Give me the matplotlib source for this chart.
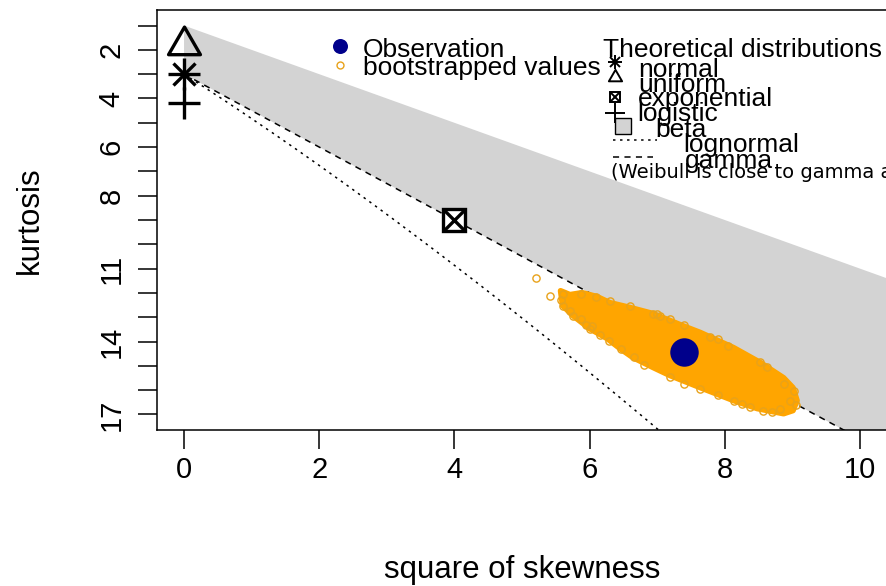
import matplotlib
matplotlib.use("Agg")
import matplotlib.pyplot as plt
import numpy as np
from matplotlib.path import Path

plt.rcParams['font.family'] = ['Liberation Sans', 'DejaVu Sans']

W, H, DPI = 886, 586, 100

# Observed (square of skewness, kurtosis)
obs_skew2 = [7.39]
obs_kurt = [14.44]

# Theoretical single-point distributions
normal_pt = (0.0, 3.0)
uniform_pt = (0.0, 1.8)
logistic_pt = (0.0, 4.2)
exponential_pt = (4.0, 9.0)

# Dense core of the bootstrap cloud (outline of the overlapping points)
boot_core_skew2 = [5.57, 5.71, 5.89, 6.11, 6.30, 6.60, 6.94, 7.38, 7.64, 8.13, 8.53,
                   8.87, 9.01, 9.07, 9.01, 8.87, 8.48, 8.13, 7.64, 7.19, 6.94, 6.64,
                   6.45, 6.26, 6.00, 5.75, 5.60]
boot_core_kurt = [11.91, 12.07, 11.99, 12.15, 12.40, 12.60, 12.85, 13.35, 13.63, 14.25, 14.87,
                  15.49, 15.90, 16.43, 16.84, 16.97, 16.76, 16.43, 15.90, 15.40, 15.07, 14.66,
                  14.29, 13.88, 13.47, 12.93, 12.52]

# Individual bootstrap values around the edge of the cloud
boot_edge_skew2 = [5.20, 5.41, 5.61, 5.58, 5.61, 5.71, 5.76, 5.88, 6.00, 6.03, 6.28, 6.47,
                   6.65, 7.19, 7.64, 8.13, 8.38, 8.57, 8.82, 8.97, 8.87, 9.02, 8.62, 8.52,
                   8.05, 7.78, 6.99, 7.19, 5.88, 6.10, 6.94, 7.04,
                   6.30, 6.60, 7.40, 7.90, 6.80, 7.40, 7.90, 8.70, 9.05, 5.95, 6.15, 8.25]
boot_edge_kurt = [11.38, 12.14, 12.04, 12.29, 12.52, 12.73, 12.93, 13.07, 13.48, 13.35, 13.96, 14.30,
                  14.65, 15.47, 15.95, 16.43, 16.71, 16.84, 16.77, 16.43, 15.75, 16.02, 15.06, 14.86,
                  14.17, 13.83, 12.86, 13.07, 12.04, 12.18, 12.86, 12.93,
                  12.35, 12.55, 13.30, 13.90, 14.95, 15.75, 16.20, 16.90, 16.60, 13.30, 13.75, 16.55]

x_ticks = [0, 2, 4, 6, 8, 10]
y_ticks = list(range(1, 18))
y_tick_labels = ['', '2', '', '4', '', '6', '', '8', '', '', '11', '', '', '14', '', '', '17']

X_MIN, X_MAX = -0.4, 10.4
Y_MIN, Y_MAX = 0.36, 17.64

fig = plt.figure(figsize=(W / DPI, H / DPI), dpi=DPI)
fig.patch.set_facecolor('white')

left, right, top, bottom = 157, 887, 10, 430
ax = fig.add_axes([left / W, 1 - bottom / H, (right - left) / W, (bottom - top) / H])
ax.set_xlim(X_MIN, X_MAX)
ax.set_ylim(Y_MAX, Y_MIN)

# Beta region between the lower limit and the gamma line
s_end = X_MAX
beta_x = [0, s_end, s_end, 0]
beta_y = [1, 1 + s_end, 3 + 1.5 * s_end, 3]
ax.fill(beta_x, beta_y, color='#d3d3d3', lw=0, zorder=1)

# Gamma line
gx = np.array([0, s_end])
ax.plot(gx, 3 + 1.5 * gx, color='black', lw=1.1, dashes=(4, 3.5), zorder=2)

# Lognormal curve (parametric in exp(sigma^2))
sigma = np.linspace(0, 0.75, 200)
es2 = np.exp(sigma ** 2)
ln_s2 = (es2 + 2) ** 2 * (es2 - 1)
ln_k = es2 ** 4 + 2 * es2 ** 3 + 3 * es2 ** 2 - 3
ax.plot(ln_s2, ln_k, color='black', lw=1.1, dashes=(1.6, 3), zorder=2)

# Bootstrap cloud
ax.fill(boot_core_skew2, boot_core_kurt, facecolor='#FFA500', edgecolor='#FFA500',
        lw=4, joinstyle='round', zorder=3)
ax.plot(boot_edge_skew2, boot_edge_kurt, 'o', ms=5.2, mfc='none', mec='#E8A21A',
        mew=1.0, zorder=3)

# Observation
ax.plot(obs_skew2, obs_kurt, 'o', ms=20.5, color='#00008B', mew=0, zorder=5)

# Theoretical markers
tri = Path([(0, 1.555), (1.347, -0.777), (-1.347, -0.777), (0, 1.555)],
           [Path.MOVETO, Path.LINETO, Path.LINETO, Path.CLOSEPOLY])
lw_m = 2.4
ax.plot(*uniform_pt, marker=tri, ms=26.5, mfc='none', mec='black', mew=lw_m, zorder=6, clip_on=False)
ax.plot(*normal_pt, marker='+', ms=23, mec='black', mew=lw_m, zorder=6, clip_on=False)
ax.plot(*normal_pt, marker='x', ms=16, mec='black', mew=lw_m, zorder=6, clip_on=False)
ax.plot(*logistic_pt, marker='+', ms=23, mec='black', mew=lw_m, zorder=6, clip_on=False)
ax.plot(*exponential_pt, marker='s', ms=15.5, mfc='white', mec='black', mew=lw_m, zorder=6)
ax.plot(*exponential_pt, marker='x', ms=15.5, mec='black', mew=lw_m, zorder=6)

# Axes styling
for sp in ax.spines.values():
    sp.set_linewidth(1.1)
ax.set_xticks(x_ticks)
ax.set_xticklabels([str(v) for v in x_ticks])
ax.set_yticks(y_ticks)
ax.set_yticklabels(y_tick_labels, rotation=90, va='center')
ax.tick_params(axis='x', length=14, width=1.1, pad=5, labelsize=21)
ax.tick_params(axis='y', length=13.5, width=1.1, pad=9, labelsize=21)

fig.text(522 / W, 1 - 578 / H, 'square of skewness', ha='center', va='baseline', fontsize=22.5)
fig.text(38 / W, 1 - 220 / H, 'kurtosis', rotation=90, rotation_mode='anchor',
         ha='center', va='baseline', fontsize=22.5)

# Legends drawn in pixel space on an overlay
lg = fig.add_axes([0, 0, 1, 1])
lg.set_xlim(0, W)
lg.set_ylim(H, 0)
lg.axis('off')
lg.patch.set_alpha(0)

fs = 19
lg.plot(340, 46, 'o', ms=10.8, color='#00008B', mew=0)
lg.plot(340, 65, 'o', ms=5, mfc='none', mec='#E8A21A', mew=1.0)
lg.text(363, 57, 'Observation', fontsize=fs, va='baseline')
lg.text(363, 75, 'bootstrapped values', fontsize=fs, va='baseline')

lg.text(603, 57, 'Theoretical distributions', fontsize=fs, va='baseline')
lm = 1.4
lg.plot(615, 62, marker='+', ms=10, mec='black', mew=lm)
lg.plot(615, 62, marker='x', ms=7, mec='black', mew=lm)
lg.plot(615, 77, marker=tri, ms=11, mfc='none', mec='black', mew=lm)
lg.plot(615, 97, marker='s', ms=7, mfc='white', mec='black', mew=lm)
lg.plot(615, 97, marker='x', ms=7, mec='black', mew=lm)
lg.plot(615, 113, marker='+', ms=14, mec='black', mew=lm)
lg.plot(623, 126, marker='s', ms=12, mfc='#d3d3d3', mec='black', mew=1.0)
lg.plot([613, 657], [140, 140], color='black', lw=1.1, dashes=(1.6, 3))
lg.plot([613, 653], [157, 157], color='black', lw=1.1, dashes=(4, 3.5))

lg.text(638, 77, 'normal', fontsize=fs, va='baseline')
lg.text(638, 92, 'uniform', fontsize=fs, va='baseline')
lg.text(638, 106, 'exponential', fontsize=fs, va='baseline')
lg.text(637, 121, 'logistic', fontsize=fs, va='baseline')
lg.text(655, 137, 'beta', fontsize=fs, va='baseline')
lg.text(683, 152, 'lognormal', fontsize=fs, va='baseline')
lg.text(685, 168, 'gamma', fontsize=fs, va='baseline')
lg.text(611, 178, '(Weibull is close to gamma and lognormal)', fontsize=14,
        family='DejaVu Sans', va='baseline')

fig.savefig('out.png', dpi=DPI, facecolor='white')
